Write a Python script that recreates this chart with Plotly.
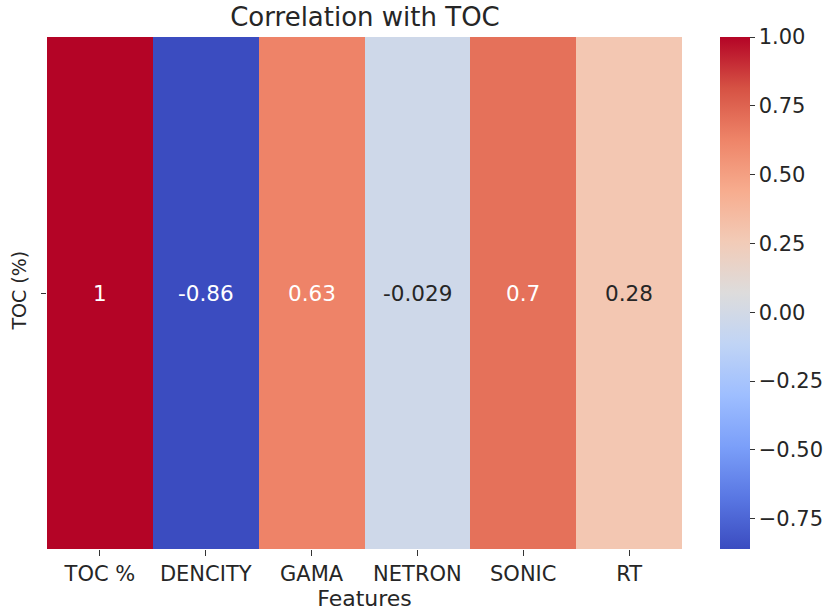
import plotly.graph_objects as go

features = ["TOC %", "DENCITY", "GAMA", "NETRON", "SONIC", "RT"]
row_label = ["TOC (%)"]
corr = [1.0, -0.86, 0.63, -0.029, 0.70, 0.28]
cbar_ticks = [1.0, 0.75, 0.5, 0.25, 0.0, -0.25, -0.5, -0.75]

coolwarm = [
    [0.0, "#3b4cc0"], [0.1, "#5977e3"], [0.2, "#7b9ff9"], [0.3, "#9ebeff"],
    [0.4, "#c0d4f5"], [0.5, "#dddcdc"], [0.6, "#f2cbb7"], [0.7, "#f7ac8e"],
    [0.8, "#ee8468"], [0.9, "#d65244"], [1.0, "#b40426"],
]

FONT = "DejaVu Sans"
TXT = "#262626"
fig = go.Figure(go.Heatmap(
    z=[corr], x=features, y=row_label,
    colorscale=coolwarm, zmin=min(corr), zmax=max(corr),
    xgap=0, ygap=0,
    colorbar=dict(
        x=(720 - 47) / 636, xanchor="left", xpad=0, ypad=0,
        y=0.5, yanchor="middle", len=1.0,
        thickness=30, outlinewidth=0,
        tickvals=cbar_ticks,
        ticktext=[f"{t:.2f}".replace("-", "\u2212") for t in cbar_ticks],
        ticks="outside", ticklen=5, tickcolor="#333",
        tickfont=dict(family=FONT, size=21, color=TXT),
    ),
    hoverinfo="skip",
))

for f, v in zip(features, corr):
    fig.add_annotation(
        x=f, y=row_label[0], xref="x", yref="y", showarrow=False,
        text=f"{v:.2g}",
        font=dict(family=FONT, size=21.5, color="white" if abs(v) > 0.5 else TXT),
    )

fig.update_layout(
    width=834, height=613,
    margin=dict(l=47, r=151, t=37, b=64),
    paper_bgcolor="white", plot_bgcolor="white",
    title=dict(text="Correlation with TOC", x=(47 + 683) / 2 / 834, xanchor="center",
               y=1 - 17 / 613, yanchor="middle",
               font=dict(family=FONT, size=26, color=TXT)),
    font=dict(family=FONT, color=TXT),
    xaxis=dict(
        title=dict(text="Features", font=dict(family=FONT, size=22), standoff=3),
        tickfont=dict(family=FONT, size=21), ticks="outside", ticklen=6,
        tickcolor="#333", showgrid=False, zeroline=False, showline=False,
        automargin=False,
    ),
    yaxis=dict(
        tickfont=dict(family=FONT, size=19), tickangle=-90, ticks="outside",
        ticklen=5, tickcolor="#333", showgrid=False, zeroline=False, showline=False,
        ticklabelstandoff=7, automargin=False,
    ),
)

fig.write_html("out.html")
